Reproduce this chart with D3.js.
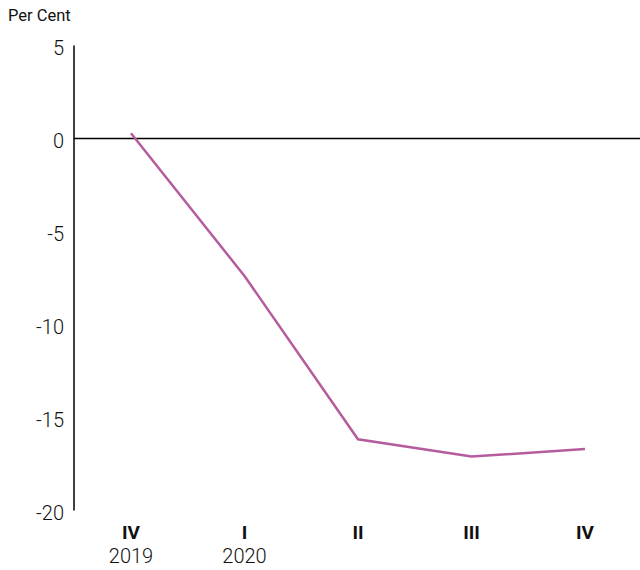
<!DOCTYPE html>
<html><head><meta charset="utf-8">
<script src="https://cdn.jsdelivr.net/npm/d3@7"></script>
<style>body{margin:0;background:#fff}svg{display:block}text{font-family:Roboto,"Liberation Sans",sans-serif}</style>
</head><body>
<svg id="c" width="640" height="570"></svg>
<script>
const quarters = ["IV", "I", "II", "III", "IV "];
const years = ["2019", "2020", "", "", ""];
const values = [0.28, -7.39, -16.17, -17.1, -16.7];
const yTicks = [5, 0, -5, -10, -15, -20];
const yLabel = "Per Cent";

const svg = d3.select("#c");
const x = d3.scalePoint().domain(quarters).range([131, 585]);
const y = d3.scaleLinear().domain([-20, 5]).range([510.5, 45.5]);
const axisX = 74;

svg.append("line").attr("x1", axisX).attr("x2", axisX).attr("y1", y(5)).attr("y2", y(-20))
  .attr("stroke", "#000").attr("stroke-width", 1.5);
svg.append("line").attr("x1", axisX).attr("x2", 640).attr("y1", y(0)).attr("y2", y(0))
  .attr("stroke", "#000").attr("stroke-width", 1.5);

svg.selectAll(".yt").data(yTicks).join("text")
  .attr("x", 64).attr("y", d => y(d) + 2.5).attr("text-anchor", "end")
  .attr("dominant-baseline", "central").attr("font-size", 20).attr("font-weight", 300).attr("fill", "#111")
  .text(d => d);

svg.append("text").attr("x", 8).attr("y", 21).attr("font-size", 16.5).attr("fill", "#111").text(yLabel);

svg.selectAll(".q").data(quarters).join("text")
  .attr("x", d => x(d)).attr("y", 539).attr("text-anchor", "middle")
  .attr("font-size", 19).attr("font-weight", "bold").attr("fill", "#111")
  .text(d => d.trim());
svg.selectAll(".yr").data(quarters).join("text")
  .attr("x", d => x(d)).attr("y", 563).attr("text-anchor", "middle")
  .attr("font-size", 20).attr("font-weight", 300).attr("fill", "#111")
  .text((d, i) => years[i]);

const line = d3.line().x((d, i) => x(quarters[i])).y(d => y(d));
svg.append("path").datum(values).attr("d", line).attr("fill", "none")
  .attr("stroke", "#b65c9d").attr("stroke-width", 2.5);
</script>
</body></html>
